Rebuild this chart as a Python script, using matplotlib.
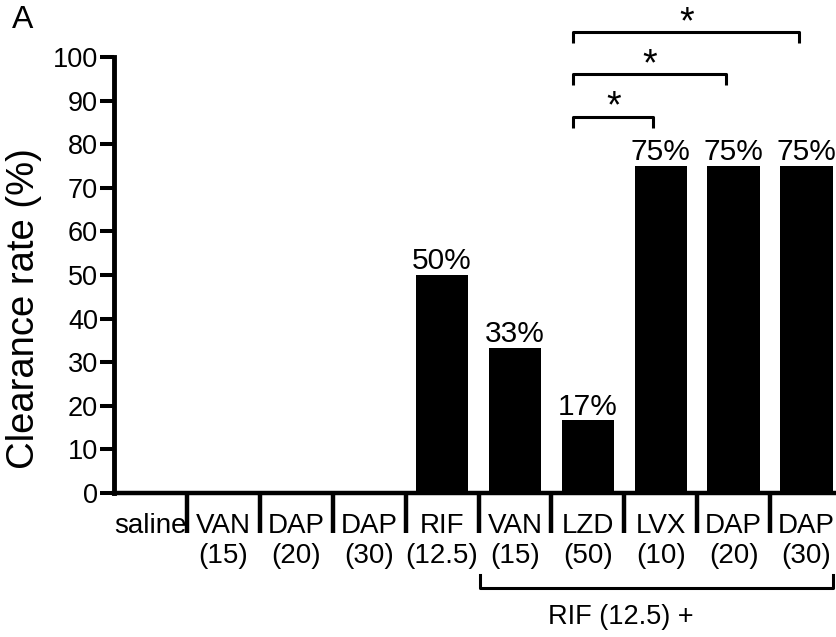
import numpy as np
import matplotlib.pyplot as plt

plt.rcParams['font.family'] = ['Liberation Sans', 'DejaVu Sans']

# data
groups = ['saline', 'VAN\n(15)', 'DAP\n(20)', 'DAP\n(30)', 'RIF\n(12.5)',
          'VAN\n(15)', 'LZD\n(50)', 'LVX\n(10)', 'DAP\n(20)', 'DAP\n(30)']
clearance = [0, 0, 0, 0, 50, 33.3, 16.7, 75, 75, 75]
pct_labels = ['', '', '', '', '50%', '33%', '17%', '75%', '75%', '75%']
# significance comparisons (from group, to group)
comparisons = [(6, 7), (6, 8), (6, 9)]
yticks = np.arange(0, 101, 10)

fig = plt.figure(figsize=(8.36, 6.37), dpi=100)
ax = fig.add_axes([114/836, 1-493/637, (836-114)/836, 436/637])

x = np.arange(len(groups))
ax.bar(x, clearance, width=0.72, color='black', clip_on=False)

ax.set_xlim(-0.5, -0.5 + 722/72.9)
ax.set_ylim(0, 100)
ax.set_yticks(yticks)
ax.tick_params(axis='y', labelsize=19.5, length=10, width=2.9, pad=1.5)

# group boundaries as long ticks, names at centres
ax.set_xticks(np.arange(0.5, len(groups) - 0.5, 1))
ax.set_xticklabels([])
ax.tick_params(axis='x', which='major', length=29, width=3.2, direction='out')
ax.set_xticks(x, minor=True)
ax.set_xticklabels(groups, minor=True, fontsize=20, linespacing=1.2)
ax.tick_params(axis='x', which='minor', length=0, pad=14.5)

for s in ['top', 'right']:
    ax.spines[s].set_visible(False)
ax.spines['left'].set_linewidth(3.5)
ax.spines['bottom'].set_linewidth(3.2)

# percentages above bars
for xi, v, lab in zip(x, clearance, pct_labels):
    if lab:
        ax.annotate(lab, (xi, v), xytext=(0, 4), textcoords='offset points',
                    ha='center', va='baseline', fontsize=21.5)

# significance brackets
for k, (a, b) in enumerate(comparisons):
    y0 = 83.8 + 9.7 * k
    y1 = y0 + 2.5
    xa, xb = a - 0.2, b - 0.1
    ax.plot([xa, xa, xb, xb], [y0, y1, y1, y0], color='black', lw=2.2,
            clip_on=False, solid_capstyle='butt')
    ax.text((xa + xb) / 2, y1 - 0.2, '*', ha='center', va='baseline',
            fontsize=27)

# bracket under the combination groups
xa, xb = 4.52, 9.36
ax.plot([xa, xa, xb, xb], [-18.8, -21.7, -21.7, -18.8], color='black',
        lw=2.2, clip_on=False)
ax.text(6.45, -28.4, 'RIF (12.5) +', ha='center', va='center', fontsize=19.5)

fig.text(24/836, 1-309/637, 'Clearance rate (%)', rotation=90,
         ha='center', va='center', fontsize=27.5)
fig.text(12/836, 1-5/637, 'A', ha='left', va='top', fontsize=23)

fig.savefig('out.png', dpi=100)
